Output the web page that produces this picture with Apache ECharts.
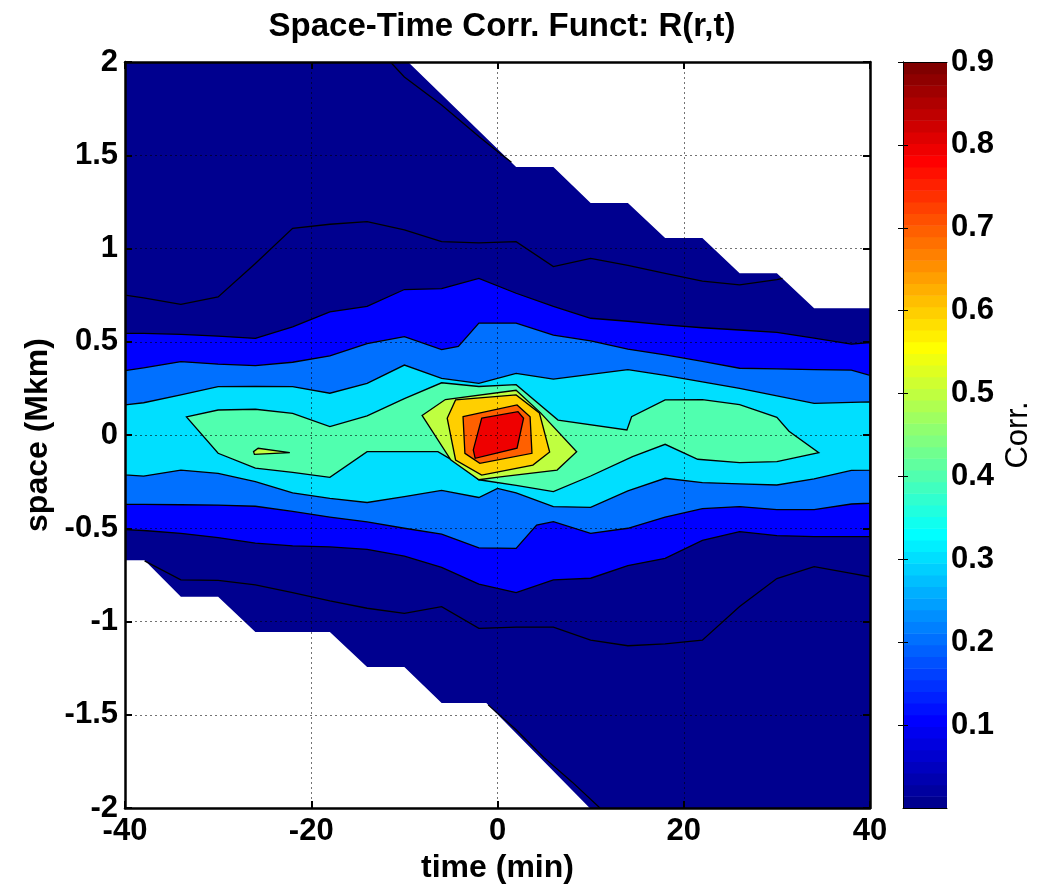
<!DOCTYPE html>
<html>
<head>
<meta charset="utf-8">
<title>Space-Time Corr. Funct</title>
<script src="https://cdn.jsdelivr.net/npm/echarts/dist/echarts.min.js"></script>
<style>
  html, body { margin: 0; padding: 0; background: #fff; }
  #chart { width: 1038px; height: 891px; }
</style>
</head>
<body>
<div id="chart"></div>
<script>
// ---- Axis ticks -------------------------------------------------------
const timeTicks = [-40, -20, 0, 20, 40];          // min
const spaceTicks = [-2, -1.5, -1, -0.5, 0, 0.5, 1, 1.5, 2]; // Mkm
const corrTicks = [0.1, 0.2, 0.3, 0.4, 0.5, 0.6, 0.7, 0.8, 0.9];
const corrRange = [0, 0.9];

// ---- Contour data: [time (min), space (Mkm)] ---------------------------
// Outline of the region where R(r,t) is defined
const validRegion = [
  [-40, 2], [-9.6, 2], [2, 1.437], [6, 1.437], [10, 1.244], [14, 1.244],
  [18, 1.056], [22, 1.056], [26, 0.867], [30, 0.867], [34, 0.68], [40, 0.68],
  [40, -2], [9.9, -2], [-1.2, -1.437], [-6, -1.437], [-10, -1.244], [-14, -1.244],
  [-18, -1.056], [-26, -1.056], [-30, -0.867], [-34, -0.867], [-37.9, -0.672], [-40, -0.672]
];

// R = 0 isolines
const zeroUpper = [
  [-40, 0.75], [-38, 0.735], [-34, 0.70], [-30, 0.74], [-26, 0.92], [-22, 1.108],
  [-18, 1.13], [-14, 1.144], [-10, 1.10], [-6, 1.037], [-2, 1.03], [2, 1.037],
  [6, 0.903], [10, 0.947], [14, 0.91], [18, 0.867], [22, 0.825], [26, 0.805],
  [30, 0.833], [30.6, 0.84]
];
const zeroUpperEdge = [[-11.5, 2.0], [-10, 1.92], [-6, 1.77], [-2, 1.6], [0, 1.52], [1.5, 1.462]];
const zeroLower = [
  [-37.9, -0.675], [-34, -0.777], [-30, -0.78], [-26, -0.804], [-22, -0.845],
  [-18, -0.89], [-14, -0.929], [-10, -0.956], [-6, -0.92], [-2, -1.037], [2, -1.03],
  [6, -1.03], [10, -1.10], [14, -1.13], [18, -1.12], [22, -1.10], [26, -0.92],
  [30, -0.77], [34, -0.706], [38, -0.742], [40, -0.76]
];
const zeroLowerEdge = [[-1.0, -1.447], [2, -1.58], [5, -1.73], [8, -1.86], [11, -2.0]];

// R = 0.1 / 0.2 / 0.3 bands (upper and lower boundaries, left to right)
const c01Upper = [
  [-40, 0.545], [-38, 0.545], [-34, 0.54], [-30, 0.53], [-26, 0.518], [-22, 0.58],
  [-18, 0.66], [-14, 0.69], [-10, 0.78], [-6, 0.785], [-2, 0.84], [2, 0.76],
  [6, 0.69], [10, 0.626], [14, 0.61], [18, 0.59], [22, 0.575], [26, 0.563],
  [30, 0.55], [34, 0.52], [38, 0.487], [40, 0.495]
];
const c01Lower = [
  [-40, -0.507], [-38, -0.512], [-34, -0.527], [-30, -0.55], [-26, -0.58], [-22, -0.595],
  [-18, -0.60], [-14, -0.613], [-10, -0.65], [-6, -0.71], [-2, -0.80], [2, -0.845],
  [6, -0.777], [10, -0.768], [14, -0.70], [18, -0.661], [22, -0.565], [26, -0.518],
  [30, -0.54], [34, -0.545], [38, -0.545], [40, -0.545]
];
const c02Upper = [
  [-40, 0.345], [-38, 0.36], [-34, 0.393], [-30, 0.38], [-26, 0.372], [-22, 0.39],
  [-18, 0.424], [-14, 0.49], [-10, 0.527], [-6, 0.458], [-4.2, 0.475], [-2, 0.60],
  [2, 0.60], [6, 0.536], [10, 0.505], [14, 0.46], [18, 0.43], [22, 0.395],
  [26, 0.358], [30, 0.355], [34, 0.35], [38, 0.348], [40, 0.32]
];
const c02Lower = [
  [-40, -0.372], [-38, -0.372], [-34, -0.374], [-30, -0.376], [-26, -0.382], [-22, -0.41],
  [-18, -0.44], [-14, -0.466], [-10, -0.50], [-6, -0.532], [-2, -0.605], [2, -0.608],
  [4.2, -0.483], [6, -0.465], [10, -0.527], [14, -0.50], [18, -0.44], [22, -0.395],
  [26, -0.384], [30, -0.40], [34, -0.40], [38, -0.37], [40, -0.366]
];
const c03Upper = [
  [-40, 0.161], [-38, 0.173], [-34, 0.215], [-30, 0.259], [-26, 0.26], [-22, 0.259],
  [-18, 0.224], [-14, 0.277], [-10, 0.375], [-6, 0.304], [-2, 0.277], [2, 0.33],
  [6, 0.30], [10, 0.325], [14, 0.35], [18, 0.32], [22, 0.285], [26, 0.25],
  [30, 0.21], [34, 0.17], [38, 0.175], [40, 0.178]
];
const c03Lower = [
  [-40, -0.214], [-38, -0.22], [-34, -0.188], [-30, -0.206], [-26, -0.25], [-22, -0.31],
  [-18, -0.34], [-14, -0.362], [-10, -0.33], [-6, -0.297], [-2, -0.335], [0, -0.286],
  [2, -0.31], [6, -0.384], [10, -0.388], [14, -0.3], [18, -0.232], [22, -0.255],
  [26, -0.262], [30, -0.268], [34, -0.235], [38, -0.19], [40, -0.188]
];

// Closed isolines around the central peak
const c04 = [
  [-33.4, 0.097], [-30, 0.134], [-26, 0.138], [-22, 0.116], [-18, 0.045], [-14, 0.103],
  [-10, 0.195], [-6, 0.28], [-2, 0.26], [2, 0.27], [6.5, 0.08], [13.9, 0.027],
  [14.4, 0.098], [18, 0.188], [22, 0.19], [26, 0.163], [30, 0.095], [31.3, 0.02],
  [34.5, -0.095], [30, -0.143], [26, -0.148], [21.5, -0.13], [18, -0.05], [14.5, -0.116],
  [10, -0.22], [6, -0.304], [2, -0.27], [-2, -0.24], [-4, -0.16], [-6.4, -0.089],
  [-10, -0.089], [-14, -0.089], [-18, -0.227], [-22, -0.2], [-26, -0.178], [-30, -0.098]
];
const c05 = [
  [-8.1, 0.105], [-5.6, 0.19], [2, 0.24], [4.6, 0.12], [8.5, -0.09], [6.4, -0.188],
  [0.3, -0.225], [-2, -0.24], [-5, -0.134]
];
const c05Islet = [[-26.2, -0.089], [-25.7, -0.071], [-22.3, -0.094], [-26.1, -0.104]];
const c06 = [
  [-5.4, 0.09], [-4.5, 0.188], [2, 0.215], [4.5, 0.118], [5.6, -0.091], [3.8, -0.161],
  [-1.7, -0.215], [-4.5, -0.134]
];
const c07 = [[-3.7, 0.098], [2.1, 0.161], [3.5, 0.098], [3.7, -0.098], [-1.9, -0.152], [-3.5, -0.098]];
const c08 = [[-1.7, 0.09], [2.2, 0.125], [2.8, 0.09], [2.1, -0.071], [-2.4, -0.125], [-2.6, -0.08]];

// ---- MATLAB-style jet(64) colormap -------------------------------------
function jet64() {
  const m = 64, n = 16;
  const u = [];
  for (let i = 1; i <= n; i++) u.push(i / n);
  for (let i = 1; i < n; i++) u.push(1);
  for (let i = n; i >= 1; i--) u.push(i / n);
  const out = [];
  for (let k = 1; k <= m; k++) {
    const pick = (j) => (j >= 1 && j <= u.length ? u[j - 1] : 0);
    out.push([pick(k - 24), pick(k - 8), pick(k + 8)]);
  }
  return out;
}
const JET = jet64();
const rgb = (c) => 'rgb(' + c.map(v => Math.round(v * 255)).join(',') + ')';
function levelColor(level) {
  const idx = Math.min(63, Math.floor((level - corrRange[0]) / (corrRange[1] - corrRange[0]) * 64));
  return rgb(JET[idx]);
}

// band = upper boundary followed by the lower boundary walked backwards
const band = (up, low) => up.concat(low.slice().reverse());

const shapes = [
  { pts: validRegion, level: 0, closed: true, stroke: false },
  { pts: band(c01Upper, c01Lower), level: 0.1, closed: true, stroke: true },
  { pts: band(c02Upper, c02Lower), level: 0.2, closed: true, stroke: true },
  { pts: band(c03Upper, c03Lower), level: 0.3, closed: true, stroke: true },
  { pts: c04, level: 0.4, closed: true, stroke: true },
  { pts: c05, level: 0.5, closed: true, stroke: true },
  { pts: c05Islet, level: 0.5, closed: true, stroke: true },
  { pts: c06, level: 0.6, closed: true, stroke: true },
  { pts: c07, level: 0.7, closed: true, stroke: true },
  { pts: c08, level: 0.8, closed: true, stroke: true },
  { pts: zeroUpper, closed: false },
  { pts: zeroUpperEdge, closed: false },
  { pts: zeroLower, closed: false },
  { pts: zeroLowerEdge, closed: false }
];

const FONT = '"Liberation Sans", Arial, Helvetica, sans-serif';
const LINE_W = 1.3;

const chart = echarts.init(document.getElementById('chart'), null, { renderer: 'canvas' });

const labelStyle = { color: '#000', fontFamily: FONT, fontWeight: 'bold', fontSize: 31 };
const nameStyle = { color: '#000', fontFamily: FONT, fontWeight: 'bold', fontSize: 32 };
const gridLine = { show: true, lineStyle: { color: 'rgba(0,0,0,0.55)', width: 1, type: [2, 3] } };
const boxLine = { show: true, onZero: false, lineStyle: { color: '#000', width: 2.5 } };
const inTick = { show: true, inside: true, length: 7, lineStyle: { color: '#000', width: 2 } };

chart.setOption({
  animation: false,
  backgroundColor: '#fff',
  title: {
    text: 'Space-Time Corr. Funct: R(r,t)',
    left: 497, top: 5, textAlign: 'center',
    textStyle: { color: '#000', fontFamily: FONT, fontWeight: 'bold', fontSize: 33 }
  },
  grid: [
    { left: 125, top: 62, width: 745, height: 746 },
    { left: 903, top: 62, width: 44, height: 746 }
  ],
  xAxis: [
    {
      gridIndex: 0, type: 'value', min: -40, max: 40, interval: 20, position: 'bottom', z: 10,
      name: 'time (min)', nameLocation: 'middle', nameGap: 44, nameTextStyle: nameStyle,
      axisLine: boxLine, axisTick: inTick, splitLine: gridLine,
      axisLabel: Object.assign({ margin: 8 }, labelStyle)
    },
    {
      gridIndex: 0, type: 'value', min: -40, max: 40, interval: 20, position: 'top', z: 10,
      axisLine: boxLine, axisTick: inTick, splitLine: { show: false }, axisLabel: { show: false }
    },
    {
      gridIndex: 1, type: 'value', min: 0, max: 1, position: 'bottom', z: 10,
      axisLine: { show: true, onZero: false, lineStyle: { color: '#000', width: 1 } },
      axisTick: { show: false }, splitLine: { show: false }, axisLabel: { show: false }
    },
    {
      gridIndex: 1, type: 'value', min: 0, max: 1, position: 'top', z: 10,
      axisLine: { show: true, onZero: false, lineStyle: { color: '#000', width: 1 } },
      axisTick: { show: false }, splitLine: { show: false }, axisLabel: { show: false }
    }
  ],
  yAxis: [
    {
      gridIndex: 0, type: 'value', min: -2, max: 2, interval: 0.5, position: 'left', z: 10,
      name: 'space (Mkm)', nameLocation: 'middle', nameGap: 66, nameTextStyle: nameStyle,
      axisLine: boxLine, axisTick: inTick, splitLine: gridLine,
      axisLabel: Object.assign({ margin: 7 }, labelStyle)
    },
    {
      gridIndex: 0, type: 'value', min: -2, max: 2, interval: 0.5, position: 'right', z: 10,
      axisLine: boxLine, axisTick: inTick, splitLine: { show: false }, axisLabel: { show: false }
    },
    {
      gridIndex: 1, type: 'value', min: corrRange[0], max: corrRange[1], interval: 0.1,
      position: 'right', z: 10,
      name: 'Corr.', nameLocation: 'middle', nameGap: 56,
      nameTextStyle: { color: '#000', fontFamily: FONT, fontSize: 31 },
      axisLine: { show: true, lineStyle: { color: '#000', width: 1 } },
      axisTick: { show: true, inside: true, length: 5, lineStyle: { color: '#000', width: 1 } },
      splitLine: { show: false },
      axisLabel: Object.assign({ margin: 4, showMinLabel: false,
        formatter: (v) => corrTicks.some(t => Math.abs(t - v) < 1e-9) ? v.toFixed(1) : '' }, labelStyle)
    },
    {
      gridIndex: 1, type: 'value', min: corrRange[0], max: corrRange[1], interval: 0.1,
      position: 'left', z: 10,
      axisLine: { show: true, lineStyle: { color: '#000', width: 1 } },
      axisTick: { show: true, inside: true, length: 5, lineStyle: { color: '#000', width: 1 } },
      splitLine: { show: false }, axisLabel: { show: false }
    }
  ],
  series: [
    {
      type: 'custom', name: 'R(r,t)', xAxisIndex: 0, yAxisIndex: 0, clip: true, z: 2,
      data: shapes.map((s, i) => [s.pts[0][0], s.pts[0][1], i]),
      encode: { x: 0, y: 1 },
      renderItem: (params, api) => {
        const s = shapes[params.dataIndex];
        const pts = s.pts.map(p => api.coord(p));
        if (s.closed) {
          return {
            type: 'polygon', shape: { points: pts },
            style: {
              fill: levelColor(s.level),
              stroke: s.stroke ? '#000' : null,
              lineWidth: s.stroke ? LINE_W : 0
            }
          };
        }
        return {
          type: 'polyline', shape: { points: pts },
          style: { fill: null, stroke: '#000', lineWidth: LINE_W }
        };
      }
    },
    {
      type: 'custom', name: 'colorbar', xAxisIndex: 2, yAxisIndex: 2, z: 2,
      data: JET.map((c, i) => [0, i]),
      renderItem: (params, api) => {
        const i = api.value(1);
        const step = (corrRange[1] - corrRange[0]) / JET.length;
        const p0 = api.coord([0, corrRange[0] + i * step]);
        const p1 = api.coord([1, corrRange[0] + (i + 1) * step]);
        return {
          type: 'rect',
          shape: { x: p0[0], y: p1[1], width: p1[0] - p0[0], height: p0[1] - p1[1] + 0.5 },
          style: { fill: rgb(JET[i]) }
        };
      }
    }
  ]
});
</script>
</body>
</html>
